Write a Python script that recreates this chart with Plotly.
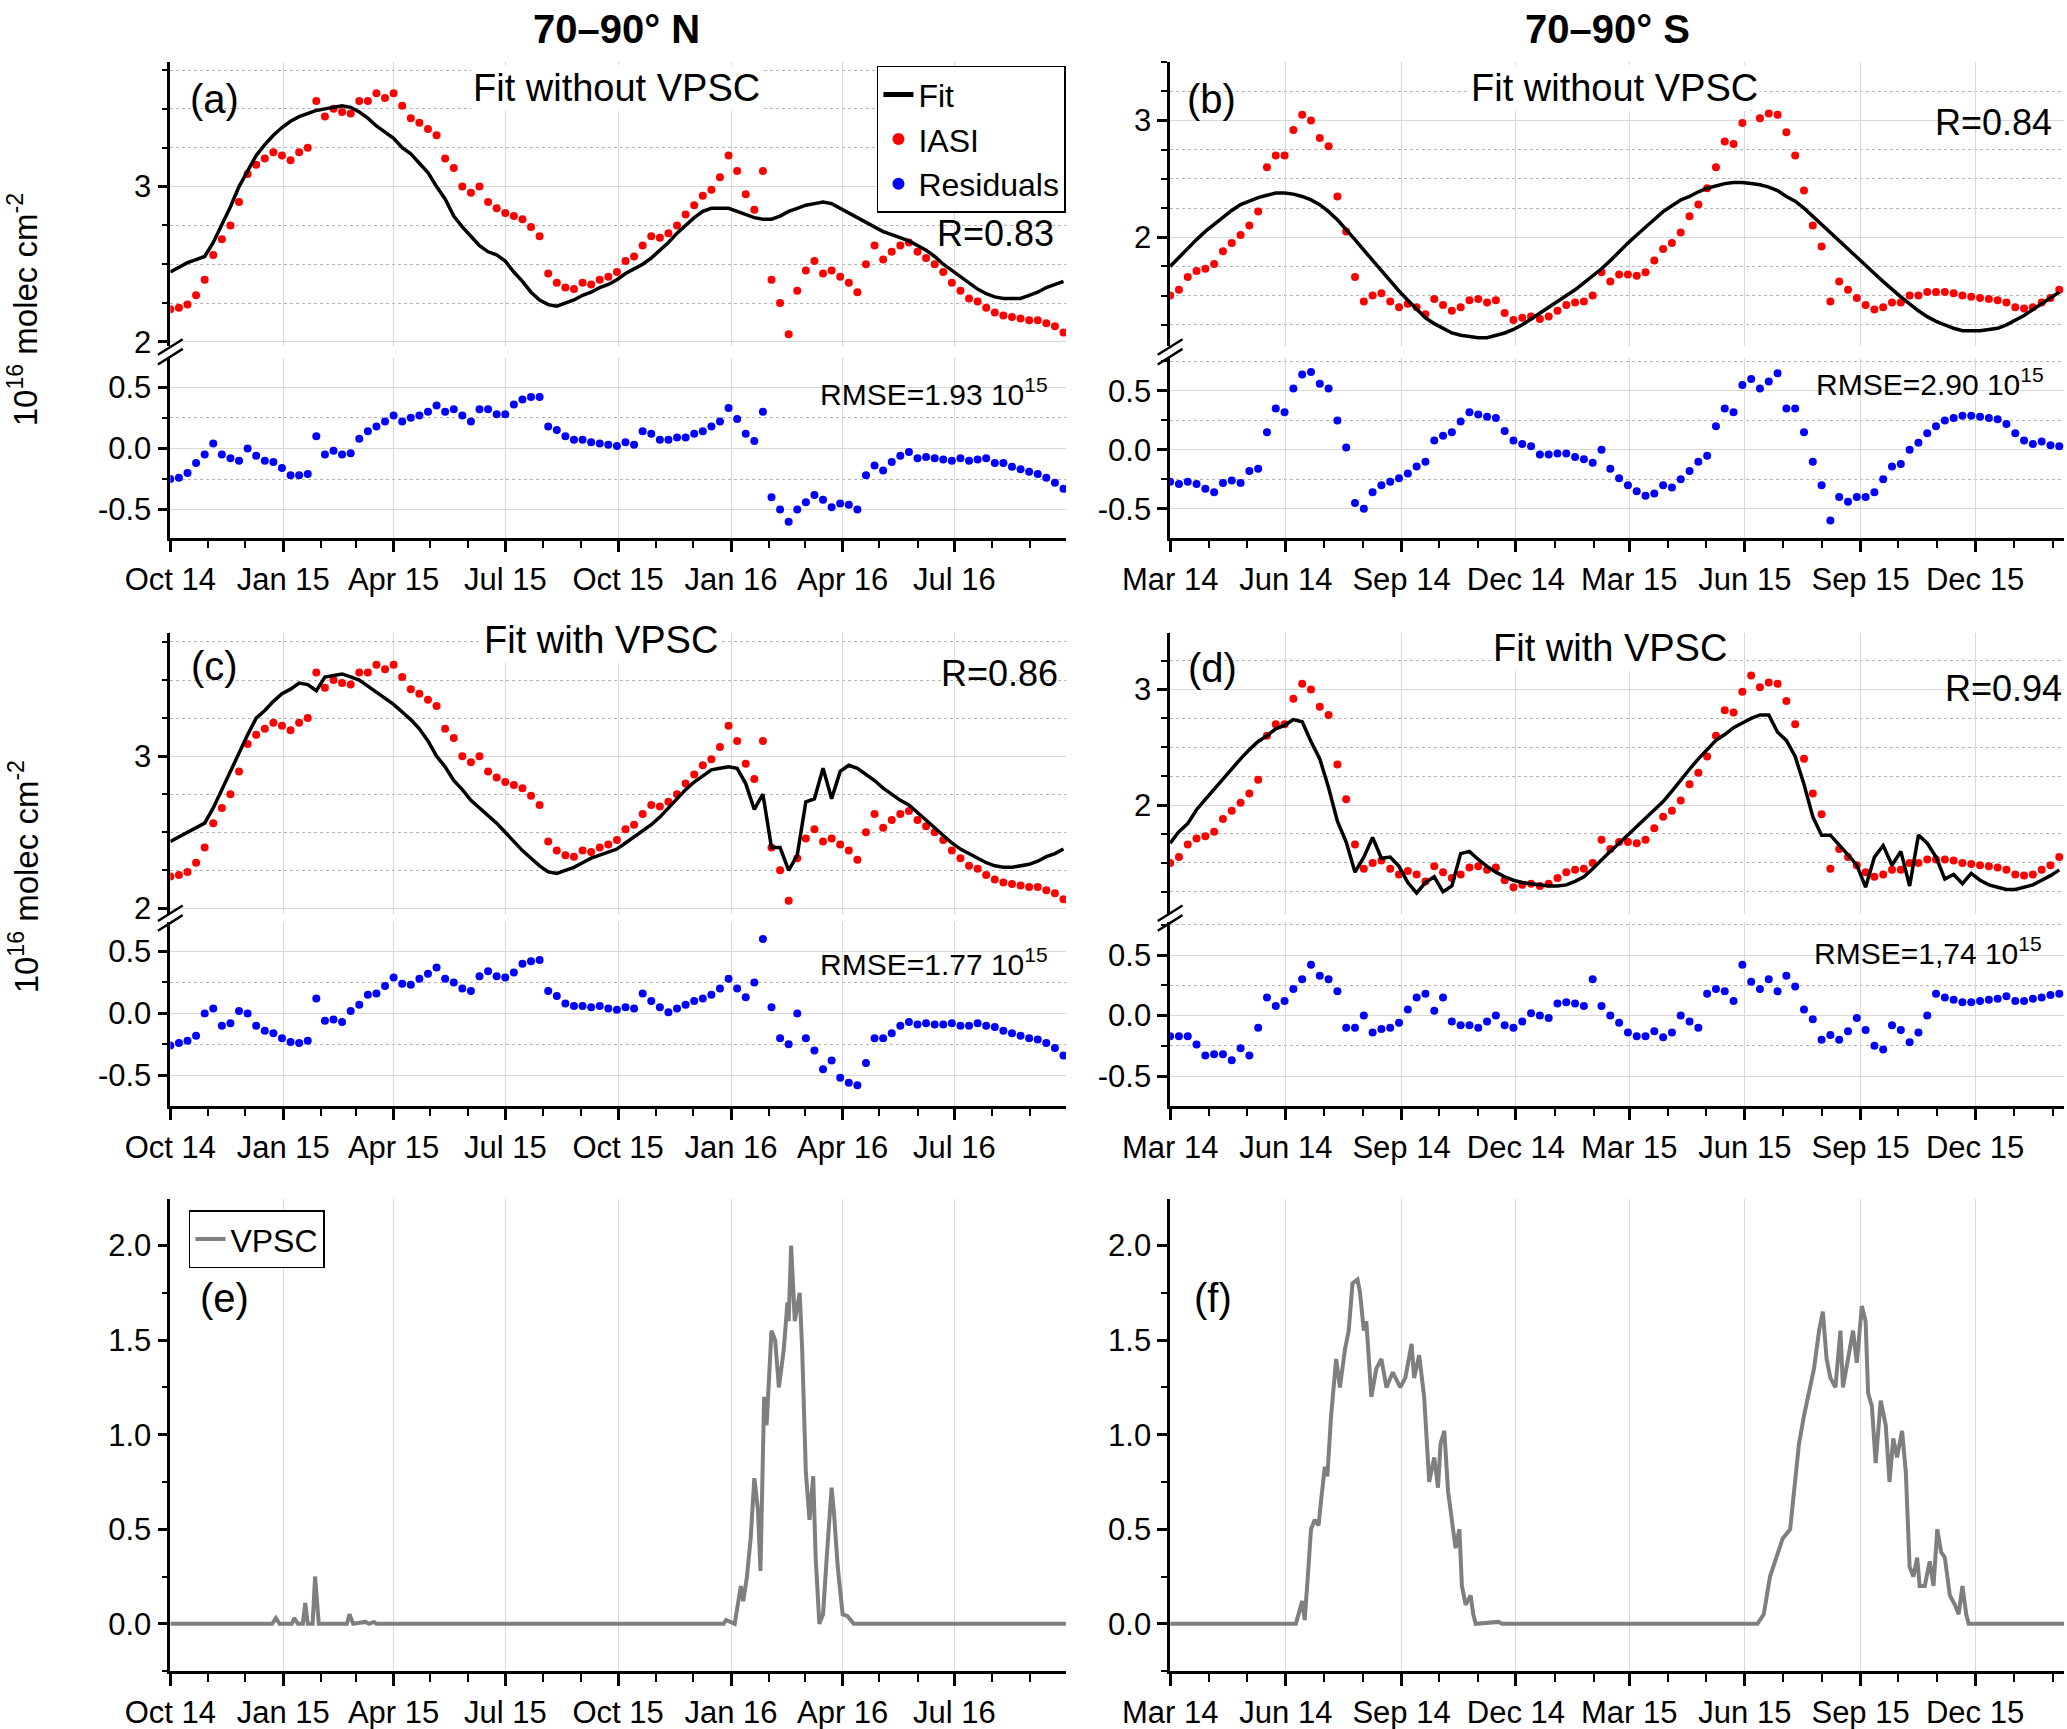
import pandas as pd
import plotly.graph_objects as go

# ===== Data (units: 1e16 molec cm-2) =====

# weekly grid, 70-90 N: Oct 2014 -> Sep 2016
fechas_n = pd.date_range("2014-10-01", periods=105, freq="7D")
# weekly grid, 70-90 S: Mar 2014 -> Feb 2016
fechas_s = pd.date_range("2014-03-01", periods=102, freq="7D")

iasi_n = [2.21, 2.22, 2.24, 2.30, 2.40, 2.56, 2.66, 2.75, 2.90, 3.08,
          3.14, 3.18, 3.22, 3.20, 3.17, 3.22, 3.25, 3.55, 3.45, 3.50,
          3.48, 3.47, 3.55, 3.55, 3.60, 3.57, 3.60, 3.52, 3.44, 3.41,
          3.37, 3.33, 3.18, 3.12, 3.00, 2.96, 3.00, 2.90, 2.86, 2.83,
          2.81, 2.79, 2.74, 2.68, 2.44, 2.38, 2.35, 2.34, 2.38, 2.37,
          2.40, 2.42, 2.45, 2.52, 2.55, 2.62, 2.68, 2.67, 2.70, 2.75,
          2.82, 2.88, 2.94, 2.98, 3.06, 3.20, 3.10, 2.95, 2.85, 3.10,
          2.40, 2.25, 2.05, 2.33, 2.46, 2.52, 2.44, 2.46, 2.42, 2.38,
          2.32, 2.50, 2.62, 2.53, 2.58, 2.62, 2.64, 2.58, 2.54, 2.50,
          2.45, 2.38, 2.33, 2.28, 2.26, 2.22, 2.19, 2.17, 2.16, 2.15,
          2.14, 2.14, 2.12, 2.10, 2.06]

fit_n_sin = [2.45, 2.48, 2.51, 2.53, 2.55, 2.64, 2.75, 2.87, 3.00, 3.10,
             3.20, 3.27, 3.33, 3.38, 3.42, 3.45, 3.47, 3.49, 3.50, 3.51,
             3.52, 3.51, 3.48, 3.44, 3.39, 3.35, 3.31, 3.25, 3.21, 3.15,
             3.09, 3.00, 2.92, 2.81, 2.74, 2.68, 2.62, 2.58, 2.56, 2.52,
             2.45, 2.39, 2.32, 2.27, 2.24, 2.23, 2.25, 2.27, 2.30, 2.32,
             2.35, 2.37, 2.40, 2.44, 2.47, 2.50, 2.54, 2.59, 2.64, 2.70,
             2.75, 2.80, 2.84, 2.86, 2.86, 2.86, 2.84, 2.82, 2.80, 2.79,
             2.79, 2.81, 2.84, 2.86, 2.88, 2.89, 2.90, 2.89, 2.86, 2.83,
             2.80, 2.77, 2.74, 2.71, 2.69, 2.67, 2.65, 2.62, 2.59, 2.55,
             2.50, 2.46, 2.42, 2.38, 2.34, 2.31, 2.29, 2.28, 2.28, 2.28,
             2.30, 2.32, 2.35, 2.37, 2.39]

res_n_sin = [-0.25, -0.24, -0.20, -0.12, -0.05, 0.04, -0.05, -0.08, -0.10, 0.00,
             -0.06, -0.10, -0.11, -0.16, -0.22, -0.22, -0.21, 0.10, -0.05, -0.02,
             -0.05, -0.04, 0.08, 0.14, 0.18, 0.22, 0.27, 0.22, 0.25, 0.27,
             0.30, 0.35, 0.30, 0.32, 0.27, 0.22, 0.32, 0.32, 0.28, 0.28,
             0.36, 0.40, 0.42, 0.42, 0.18, 0.15, 0.10, 0.07, 0.07, 0.05,
             0.04, 0.03, 0.02, 0.05, 0.03, 0.14, 0.12, 0.07, 0.07, 0.09,
             0.09, 0.12, 0.14, 0.18, 0.22, 0.33, 0.24, 0.12, 0.06, 0.30,
             -0.40, -0.50, -0.60, -0.50, -0.44, -0.38, -0.42, -0.48, -0.45, -0.46,
             -0.50, -0.22, -0.14, -0.18, -0.11, -0.06, -0.03, -0.08, -0.07, -0.08,
             -0.09, -0.10, -0.08, -0.10, -0.09, -0.08, -0.12, -0.12, -0.15, -0.17,
             -0.19, -0.21, -0.24, -0.28, -0.33]

fit_n_con = [2.44, 2.47, 2.50, 2.53, 2.56, 2.66, 2.78, 2.90, 3.03, 3.14,
             3.25, 3.30, 3.36, 3.41, 3.44, 3.48, 3.47, 3.43, 3.52, 3.53,
             3.54, 3.52, 3.50, 3.46, 3.42, 3.38, 3.34, 3.29, 3.24, 3.18,
             3.10, 3.00, 2.93, 2.84, 2.78, 2.71, 2.66, 2.61, 2.56, 2.50,
             2.44, 2.38, 2.33, 2.28, 2.24, 2.23, 2.25, 2.27, 2.30, 2.33,
             2.35, 2.37, 2.39, 2.43, 2.47, 2.51, 2.55, 2.60, 2.66, 2.72,
             2.78, 2.83, 2.87, 2.91, 2.92, 2.93, 2.92, 2.82, 2.65, 2.75,
             2.40, 2.40, 2.25, 2.35, 2.70, 2.72, 2.92, 2.72, 2.90, 2.94,
             2.92, 2.88, 2.84, 2.79, 2.75, 2.71, 2.68, 2.63, 2.58, 2.53,
             2.48, 2.43, 2.39, 2.36, 2.33, 2.30, 2.28, 2.27, 2.27, 2.28,
             2.29, 2.31, 2.34, 2.36, 2.39]

res_n_con = [-0.26, -0.24, -0.22, -0.18, 0.00, 0.04, -0.10, -0.08, 0.02, 0.00,
             -0.10, -0.14, -0.16, -0.20, -0.23, -0.24, -0.22, 0.12, -0.06, -0.05,
             -0.07, 0.02, 0.07, 0.15, 0.16, 0.22, 0.29, 0.24, 0.23, 0.28,
             0.32, 0.37, 0.28, 0.25, 0.20, 0.18, 0.30, 0.34, 0.30, 0.29,
             0.33, 0.40, 0.42, 0.43, 0.18, 0.14, 0.08, 0.06, 0.06, 0.05,
             0.06, 0.04, 0.03, 0.05, 0.04, 0.16, 0.10, 0.05, 0.01, 0.04,
             0.07, 0.10, 0.12, 0.15, 0.20, 0.28, 0.20, 0.13, 0.25, 0.60,
             0.05, -0.20, -0.25, 0.00, -0.20, -0.30, -0.45, -0.38, -0.52, -0.56,
             -0.58, -0.40, -0.20, -0.20, -0.16, -0.10, -0.07, -0.09, -0.08, -0.09,
             -0.09, -0.08, -0.10, -0.10, -0.08, -0.10, -0.11, -0.14, -0.16, -0.18,
             -0.20, -0.21, -0.24, -0.28, -0.34]

iasi_s = [1.50, 1.55, 1.66, 1.71, 1.73, 1.77, 1.88, 1.95, 2.02, 2.10,
          2.22, 2.60, 2.70, 2.70, 2.92, 3.05, 3.00, 2.85, 2.78, 2.35,
          2.05, 1.66, 1.45, 1.50, 1.52, 1.45, 1.40, 1.43, 1.40, 1.34,
          1.47, 1.42, 1.37, 1.40, 1.46, 1.47, 1.44, 1.46, 1.35, 1.29,
          1.31, 1.32, 1.30, 1.32, 1.37, 1.42, 1.44, 1.45, 1.50, 1.70,
          1.62, 1.68, 1.68, 1.67, 1.70, 1.80, 1.90, 1.95, 2.04, 2.18,
          2.28, 2.42, 2.60, 2.82, 2.80, 2.98, 3.12, 3.02, 3.06, 3.05,
          2.90, 2.70, 2.40, 2.10, 1.92, 1.45, 1.62, 1.55, 1.48, 1.42,
          1.38, 1.40, 1.44, 1.44, 1.50, 1.50, 1.53, 1.53, 1.53, 1.52,
          1.50, 1.49, 1.48, 1.47, 1.46, 1.44, 1.40, 1.39, 1.40, 1.44,
          1.48, 1.55]

fit_s_sin = [1.75, 1.83, 1.91, 1.98, 2.05, 2.11, 2.17, 2.23, 2.28, 2.31,
             2.34, 2.36, 2.38, 2.38, 2.37, 2.35, 2.32, 2.28, 2.22, 2.15,
             2.07, 1.98, 1.89, 1.80, 1.71, 1.62, 1.54, 1.46, 1.38, 1.31,
             1.26, 1.22, 1.18, 1.16, 1.15, 1.14, 1.14, 1.16, 1.18, 1.21,
             1.25, 1.30, 1.35, 1.40, 1.45, 1.50, 1.55, 1.61, 1.67, 1.73,
             1.80, 1.88, 1.95, 2.02, 2.09, 2.16, 2.22, 2.27, 2.32, 2.35,
             2.39, 2.42, 2.44, 2.46, 2.47, 2.47, 2.46, 2.45, 2.43, 2.40,
             2.35, 2.31, 2.25, 2.18, 2.11, 2.05, 1.98, 1.91, 1.84, 1.76,
             1.69, 1.62, 1.55, 1.49, 1.43, 1.37, 1.32, 1.28, 1.25, 1.22,
             1.20, 1.20, 1.20, 1.21, 1.22, 1.25, 1.29, 1.33, 1.38, 1.43,
             1.48, 1.53]

res_s_sin = [-0.27, -0.29, -0.27, -0.29, -0.33, -0.36, -0.28, -0.26, -0.28, -0.18,
             -0.16, 0.15, 0.35, 0.32, 0.52, 0.64, 0.66, 0.56, 0.52, 0.25,
             0.02, -0.45, -0.50, -0.36, -0.30, -0.27, -0.24, -0.20, -0.14, -0.10,
             0.08, 0.12, 0.15, 0.24, 0.32, 0.30, 0.28, 0.27, 0.16, 0.08,
             0.05, 0.03, -0.04, -0.04, -0.03, -0.03, -0.06, -0.08, -0.11, 0.00,
             -0.16, -0.24, -0.30, -0.35, -0.39, -0.37, -0.30, -0.32, -0.25, -0.18,
             -0.10, -0.05, 0.20, 0.35, 0.32, 0.55, 0.60, 0.52, 0.58, 0.65,
             0.35, 0.35, 0.15, -0.10, -0.30, -0.60, -0.40, -0.44, -0.40, -0.40,
             -0.36, -0.25, -0.14, -0.12, 0.00, 0.06, 0.14, 0.20, 0.25, 0.27,
             0.29, 0.29, 0.28, 0.27, 0.26, 0.22, 0.14, 0.08, 0.05, 0.07,
             0.04, 0.03]

fit_s_con = [1.67, 1.77, 1.84, 1.96, 2.05, 2.14, 2.23, 2.32, 2.40, 2.48,
             2.55, 2.60, 2.66, 2.69, 2.74, 2.72, 2.55, 2.40, 2.15, 1.86,
             1.68, 1.42, 1.55, 1.72, 1.54, 1.55, 1.47, 1.33, 1.24, 1.33,
             1.38, 1.25, 1.30, 1.58, 1.60, 1.53, 1.47, 1.42, 1.38, 1.35,
             1.33, 1.32, 1.31, 1.30, 1.30, 1.31, 1.34, 1.38, 1.45, 1.53,
             1.60, 1.67, 1.74, 1.81, 1.88, 1.96, 2.03, 2.12, 2.22, 2.31,
             2.40, 2.48, 2.56, 2.61, 2.67, 2.71, 2.75, 2.78, 2.78, 2.63,
             2.56, 2.42, 2.18, 1.90, 1.74, 1.74, 1.66, 1.57, 1.48, 1.29,
             1.55, 1.65, 1.48, 1.60, 1.30, 1.74, 1.67, 1.55, 1.36, 1.40,
             1.32, 1.41, 1.35, 1.31, 1.29, 1.27, 1.27, 1.29, 1.31, 1.35,
             1.39, 1.44]

res_s_con = [-0.17, -0.17, -0.17, -0.24, -0.33, -0.32, -0.32, -0.37, -0.27, -0.33,
             -0.10, 0.15, 0.08, 0.12, 0.22, 0.30, 0.42, 0.33, 0.30, 0.20,
             -0.10, -0.10, 0.00, -0.14, -0.11, -0.10, -0.06, 0.05, 0.15, 0.18,
             0.04, 0.15, -0.05, -0.08, -0.08, -0.10, -0.05, 0.00, -0.08, -0.10,
             -0.05, 0.02, 0.00, -0.02, 0.10, 0.11, 0.10, 0.08, 0.30, 0.08,
             0.00, -0.06, -0.14, -0.17, -0.17, -0.13, -0.18, -0.14, 0.00, -0.05,
             -0.10, 0.18, 0.22, 0.20, 0.12, 0.42, 0.28, 0.22, 0.30, 0.20,
             0.33, 0.24, 0.05, -0.03, -0.20, -0.16, -0.20, -0.13, -0.02, -0.12,
             -0.25, -0.28, -0.08, -0.12, -0.22, -0.14, 0.00, 0.18, 0.15, 0.13,
             0.11, 0.11, 0.12, 0.13, 0.14, 0.16, 0.12, 0.12, 0.14, 0.15,
             0.17, 0.18]

# VPSC (units 1e6 km3), irregular dates
vpsc_n_fechas = ["2014-10-01", "2014-12-23", "2014-12-26", "2014-12-29", "2015-01-08",
                 "2015-01-10", "2015-01-13", "2015-01-17", "2015-01-19", "2015-01-21",
                 "2015-01-25", "2015-01-27", "2015-01-30", "2015-02-22", "2015-02-24",
                 "2015-02-27", "2015-03-09", "2015-03-12", "2015-03-16", "2015-03-18",
                 "2015-12-26", "2015-12-28", "2016-01-04", "2016-01-09", "2016-01-11",
                 "2016-01-14", "2016-01-17", "2016-01-20", "2016-01-23", "2016-01-25",
                 "2016-01-28", "2016-01-30", "2016-02-03", "2016-02-06", "2016-02-09",
                 "2016-02-13", "2016-02-16", "2016-02-17", "2016-02-19", "2016-02-22",
                 "2016-02-26", "2016-02-28", "2016-03-02", "2016-03-05", "2016-03-08",
                 "2016-03-10", "2016-03-13", "2016-03-16", "2016-03-19", "2016-03-23",
                 "2016-03-25", "2016-03-28", "2016-04-01", "2016-04-05", "2016-04-10",
                 "2016-09-30"]
vpsc_n = [0, 0, 0.03, 0, 0,
          0.03, 0, 0, 0.11, 0,
          0, 0.25, 0, 0, 0.05,
          0, 0.01, 0, 0.01, 0,
          0, 0.02, 0, 0.20, 0.12,
          0.25, 0.45, 0.77, 0.60, 0.28,
          1.20, 1.05, 1.55, 1.50, 1.25,
          1.45, 1.70, 1.60, 2.00, 1.60,
          1.75, 1.45, 0.80, 0.55, 0.78,
          0.35, 0.00, 0.05, 0.35, 0.72,
          0.58, 0.30, 0.05, 0.04, 0.00,
          0]

vpsc_s_fechas = ["2014-03-01", "2014-06-04", "2014-06-09", "2014-06-14", "2014-06-16",
                 "2014-06-19", "2014-06-21", "2014-06-24", "2014-06-27", "2014-06-29",
                 "2014-07-02", "2014-07-04", "2014-07-07", "2014-07-11", "2014-07-14",
                 "2014-07-18", "2014-07-21", "2014-07-24", "2014-07-28", "2014-07-30",
                 "2014-08-02", "2014-08-04", "2014-08-08", "2014-08-12", "2014-08-16",
                 "2014-08-20", "2014-08-25", "2014-08-31", "2014-09-04", "2014-09-09",
                 "2014-09-11", "2014-09-15", "2014-09-19", "2014-09-23", "2014-09-27",
                 "2014-09-30", "2014-10-02", "2014-10-05", "2014-10-08", "2014-10-11",
                 "2014-10-14", "2014-10-17", "2014-10-19", "2014-10-22", "2014-10-26",
                 "2014-10-28", "2014-10-30", "2014-11-17", "2014-11-20", "2015-06-11",
                 "2015-06-16", "2015-06-21", "2015-06-26", "2015-07-01", "2015-07-07",
                 "2015-07-10", "2015-07-14", "2015-07-18", "2015-07-22", "2015-07-26",
                 "2015-07-30", "2015-08-02", "2015-08-05", "2015-08-08", "2015-08-12",
                 "2015-08-16", "2015-08-18", "2015-08-22", "2015-08-26", "2015-08-29",
                 "2015-09-02", "2015-09-05", "2015-09-07", "2015-09-10", "2015-09-13",
                 "2015-09-17", "2015-09-21", "2015-09-24", "2015-09-27", "2015-09-30",
                 "2015-10-04", "2015-10-07", "2015-10-10", "2015-10-13", "2015-10-16",
                 "2015-10-18", "2015-10-22", "2015-10-26", "2015-10-29", "2015-11-01",
                 "2015-11-04", "2015-11-07", "2015-11-11", "2015-11-15", "2015-11-18",
                 "2015-11-21", "2015-11-24", "2015-11-26", "2016-02-10"]
vpsc_s = [0, 0, 0, 0.12, 0.02,
          0.30, 0.50, 0.55, 0.52, 0.65,
          0.83, 0.78, 1.10, 1.40, 1.25,
          1.45, 1.55, 1.80, 1.82, 1.75,
          1.55, 1.60, 1.20, 1.35, 1.40,
          1.25, 1.33, 1.25, 1.30, 1.48,
          1.30, 1.42, 1.20, 0.75, 0.88,
          0.72, 0.95, 1.02, 0.70, 0.55,
          0.40, 0.50, 0.20, 0.10, 0.15,
          0.05, 0.00, 0.01, 0.00, 0.00,
          0.05, 0.25, 0.35, 0.45, 0.50,
          0.70, 0.95, 1.10, 1.22, 1.35,
          1.55, 1.65, 1.40, 1.30, 1.25,
          1.55, 1.25, 1.40, 1.55, 1.38,
          1.68, 1.60, 1.22, 1.15, 0.85,
          1.18, 1.05, 0.75, 0.98, 0.88,
          1.02, 0.80, 0.30, 0.25, 0.35,
          0.20, 0.20, 0.33, 0.20, 0.50,
          0.38, 0.35, 0.15, 0.10, 0.05,
          0.20, 0.05, 0.00, 0.00]

# ===== Styles =====
NARROW = "Liberation Sans Narrow, Arial Narrow, Liberation Sans, Arial"
WIDE = "Liberation Sans, Arial"
fuente_ticks = dict(family=NARROW, size=31, color="black")

fig = go.Figure()


def add_panel(xa, ya_up, ya_low, fechas, iasi, fit, res, leyenda=False):
    fig.add_trace(go.Scatter(x=fechas, y=iasi, xaxis=xa, yaxis=ya_up, mode="markers",
                             marker=dict(color="red", size=8), name="IASI",
                             showlegend=leyenda, legendrank=2))
    fig.add_trace(go.Scatter(x=fechas, y=fit, xaxis=xa, yaxis=ya_up, mode="lines",
                             line=dict(color="black", width=3.5), name="Fit",
                             showlegend=leyenda, legendrank=1))
    fig.add_trace(go.Scatter(x=fechas, y=res, xaxis=xa, yaxis=ya_low, mode="markers",
                             marker=dict(color="blue", size=8), name="Residuals",
                             showlegend=leyenda, legendrank=3))


add_panel("x", "y", "y2", fechas_n, iasi_n, fit_n_sin, res_n_sin, leyenda=True)
add_panel("x2", "y3", "y4", fechas_s, iasi_s, fit_s_sin, res_s_sin)
add_panel("x3", "y5", "y6", fechas_n, iasi_n, fit_n_con, res_n_con)
add_panel("x4", "y7", "y8", fechas_s, iasi_s, fit_s_con, res_s_con)

fig.add_trace(go.Scatter(x=vpsc_n_fechas, y=vpsc_n, xaxis="x5", yaxis="y9", mode="lines",
                         line=dict(color="#7f7f7f", width=4), name="VPSC",
                         legend="legend2", showlegend=True))
fig.add_trace(go.Scatter(x=vpsc_s_fechas, y=vpsc_s, xaxis="x6", yaxis="y10", mode="lines",
                         line=dict(color="#7f7f7f", width=4), name="VPSC",
                         legend="legend2", showlegend=False))

# ===== Axes =====
DOM_N = [0.0824, 0.5157]
DOM_S = [0.5661, 0.9987]


def eje_x(dominio, ancla, inicio, fin):
    return dict(domain=dominio, anchor=ancla, type="date", range=[inicio, fin],
                tick0=inicio, dtick="M3", tickformat="%b %y", tickangle=0,
                ticks="outside", ticklen=12, tickwidth=2.5, tickcolor="black",
                showline=True, linecolor="black", linewidth=2.5,
                showgrid=True, gridcolor="#d9d9d9", gridwidth=1, zeroline=False,
                tickfont=fuente_ticks, automargin=False,
                minor=dict(tickmode="linear", tick0=inicio, dtick="M1", ticks="outside",
                           ticklen=8, tickwidth=2, tickcolor="black", showgrid=False))


def eje_sup(dominio, ancla, rango):
    return dict(domain=dominio, anchor=ancla, range=rango, tick0=0, dtick=1,
                ticks="outside", ticklen=10, tickwidth=2.5, tickcolor="black",
                showline=True, linecolor="black", linewidth=2.5, automargin=False,
                showgrid=True, gridcolor="#d9d9d9", zeroline=False, tickfont=fuente_ticks,
                minor=dict(tickmode="linear", tick0=0, dtick=0.25, ticks="outside",
                           ticklen=6, tickwidth=2, tickcolor="black",
                           showgrid=True, griddash="dot", gridcolor="#b5b5b5"))


def eje_inf(dominio, ancla, rango):
    return dict(domain=dominio, anchor=ancla, range=rango,
                tickmode="array", tickvals=[-0.5, 0, 0.5], ticktext=["-0.5", "0.0", "0.5"],
                ticks="outside", ticklen=10, tickwidth=2.5, tickcolor="black",
                showline=True, linecolor="black", linewidth=2.5, automargin=False,
                showgrid=True, gridcolor="#d9d9d9", zeroline=False, tickfont=fuente_ticks,
                minor=dict(tickmode="linear", tick0=0, dtick=0.25, ticks="outside",
                           ticklen=6, tickwidth=2, tickcolor="black",
                           showgrid=True, griddash="dot", gridcolor="#b5b5b5"))


def eje_vpsc(ancla):
    return dict(domain=[0.0335, 0.3064], anchor=ancla, range=[-0.25, 2.245],
                tick0=0, dtick=0.5, tickformat=".1f",
                ticks="outside", ticklen=10, tickwidth=2.5, tickcolor="black",
                showline=True, linecolor="black", linewidth=2.5, automargin=False,
                showgrid=False, zeroline=False, tickfont=fuente_ticks,
                minor=dict(tickmode="linear", tick0=0, dtick=0.25, ticks="outside",
                           ticklen=6, tickwidth=2, tickcolor="black", showgrid=False))


SUP1, INF1 = [0.800, 0.964], [0.689, 0.793]
SUP2, INF2 = [0.4715, 0.634], [0.3605, 0.4665]

fig.update_layout(
    xaxis=eje_x(DOM_N, "y2", "2014-10-01", "2016-09-30"),
    xaxis2=eje_x(DOM_S, "y4", "2014-03-01", "2016-02-10"),
    xaxis3=eje_x(DOM_N, "y6", "2014-10-01", "2016-09-30"),
    xaxis4=eje_x(DOM_S, "y8", "2014-03-01", "2016-02-10"),
    xaxis5=eje_x(DOM_N, "y9", "2014-10-01", "2016-09-30"),
    xaxis6=eje_x(DOM_S, "y10", "2014-03-01", "2016-02-10"),
    yaxis=eje_sup(SUP1, "x", [1.975, 3.80]),
    yaxis2=eje_inf(INF1, "x", [-0.73, 0.74]),
    yaxis3=eje_sup(SUP1, "x2", [1.07, 3.50]),
    yaxis4=eje_inf(INF1, "x2", [-0.745, 0.78]),
    yaxis5=eje_sup(SUP2, "x3", [1.965, 3.81]),
    yaxis6=eje_inf(INF2, "x3", [-0.745, 0.734]),
    yaxis7=eje_sup(SUP2, "x4", [1.06, 3.49]),
    yaxis8=eje_inf(INF2, "x4", [-0.745, 0.77]),
    yaxis9=eje_vpsc("x5"),
    yaxis10=eje_vpsc("x6"),
)

# ===== Axis-break marks "//" =====
formas = []
for x0 in (DOM_N[0], DOM_S[0]):
    for yc in ((SUP1[0] + INF1[1]) / 2, (SUP2[0] + INF2[1]) / 2):
        for dy in (-0.0028, 0.0028):
            formas.append(dict(type="line", xref="paper", yref="paper",
                               x0=x0 - 0.006, y0=yc + dy - 0.0045,
                               x1=x0 + 0.006, y1=yc + dy + 0.0045,
                               line=dict(color="black", width=2.5)))

# ===== Texts =====
def texto(x, y, t, size=38, xanchor="center", family=NARROW, bold=False, bg=None):
    d = dict(x=x, y=y, xref="paper", yref="paper", text=f"<b>{t}</b>" if bold else t,
             showarrow=False, xanchor=xanchor, yanchor="middle",
             font=dict(family=family, size=size, color="black"))
    if bg:
        d["bgcolor"] = bg
    return d


notas = [
    texto(0.2984, 0.983, "70–90° N", size=40, bold=True),
    texto(0.7776, 0.983, "70–90° S", size=40, bold=True),
    texto(0.104, 0.943, "(a)", size=40),
    texto(0.2984, 0.949, "Fit without VPSC", bg="white"),
    texto(0.511, 0.865, "R=0.83", size=36, xanchor="right"),
    texto(0.508, 0.773, "RMSE=1.93 10<sup>15</sup>", size=30, xanchor="right"),
    texto(0.586, 0.943, "(b)", size=40),
    texto(0.781, 0.949, "Fit without VPSC", bg="white"),
    texto(0.9936, 0.929, "R=0.84", size=36, xanchor="right"),
    texto(0.990, 0.779, "RMSE=2.90 10<sup>15</sup>", size=30, xanchor="right"),
    texto(0.104, 0.615, "(c)", size=40),
    texto(0.2907, 0.6296, "Fit with VPSC", bg="white"),
    texto(0.513, 0.6105, "R=0.86", size=36, xanchor="right"),
    texto(0.508, 0.4436, "RMSE=1.77 10<sup>15</sup>", size=30, xanchor="right"),
    texto(0.5866, 0.6136, "(d)", size=40),
    texto(0.779, 0.625, "Fit with VPSC", bg="white"),
    texto(0.9987, 0.602, "R=0.94", size=36, xanchor="right"),
    texto(0.989, 0.4497, "RMSE=1,74 10<sup>15</sup>", size=30, xanchor="right"),
    texto(0.1086, 0.2492, "(e)", size=40),
    texto(0.5866, 0.2492, "(f)", size=40),
]
for yc in (0.821, 0.493):
    nota = texto(0.0115, yc, "10<sup>16</sup> molec cm<sup>-2</sup>", size=33, family=WIDE)
    nota["textangle"] = -90
    notas.append(nota)

fig.update_layout(
    width=2067,
    height=1729,
    margin=dict(l=0, r=0, t=0, b=0, autoexpand=False),
    paper_bgcolor="white",
    plot_bgcolor="white",
    shapes=formas,
    annotations=notas,
    legend=dict(x=0.5157, xanchor="right", y=0.962, yanchor="top",
                bordercolor="black", borderwidth=1.5, bgcolor="white",
                font=dict(family=NARROW, size=32, color="black"),
                itemsizing="constant", tracegroupgap=0,
                entrywidth=215, entrywidthmode="pixels"),
    legend2=dict(x=0.0914, xanchor="left", y=0.300, yanchor="top",
                 bordercolor="black", borderwidth=1.5, bgcolor="white",
                 font=dict(family=NARROW, size=32, color="black"),
                 entrywidth=165, entrywidthmode="pixels"),
)

# page body has an 8px default margin; drop it so the figure sits at (0, 0)
fig.write_html("out.html", config={"displayModeBar": False},
               post_script="document.body.style.margin='0';")
